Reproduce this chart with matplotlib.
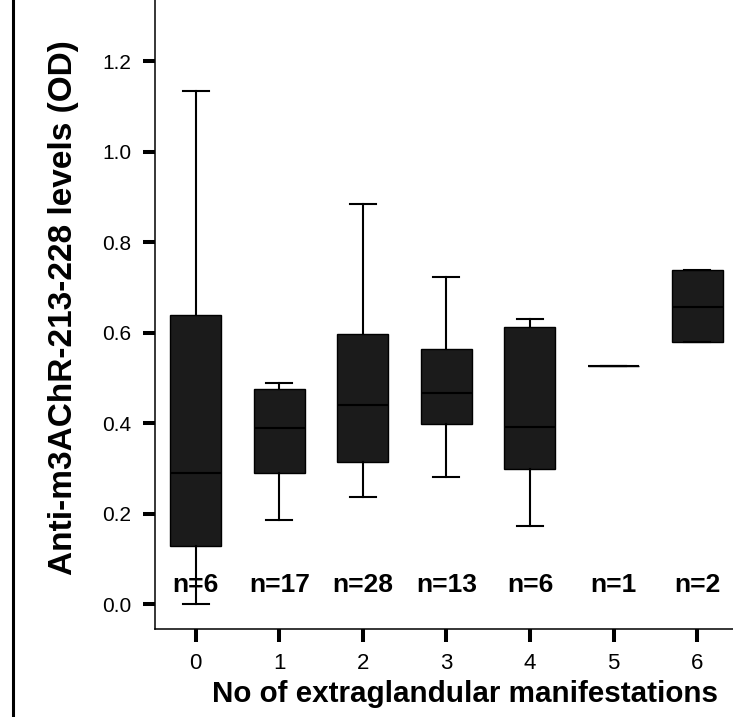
import matplotlib
matplotlib.use("Agg")
import matplotlib.pyplot as plt
from matplotlib.lines import Line2D

plt.rcParams['font.family'] = ['Liberation Sans', 'DejaVu Sans']

# --- datos ---
grupos = [0, 1, 2, 3, 4, 5, 6]
n_por_grupo = [6, 17, 28, 13, 6, 1, 2]
bigote_inf = [0.00, 0.186, 0.236, 0.281, 0.172, 0.526, 0.580]
q1 = [0.129, 0.290, 0.314, 0.398, 0.298, 0.526, 0.580]
mediana = [0.289, 0.389, 0.440, 0.467, 0.391, 0.526, 0.657]
q3 = [0.638, 0.476, 0.597, 0.564, 0.613, 0.526, 0.738]
bigote_sup = [1.133, 0.488, 0.884, 0.723, 0.630, 0.526, 0.738]

stats = []
for i in range(len(grupos)):
    stats.append({
        "whislo": bigote_inf[i], "q1": q1[i], "med": mediana[i],
        "q3": q3[i], "whishi": bigote_sup[i], "fliers": [],
    })

fig = plt.figure(figsize=(7.33, 7.17), dpi=100)
ax = fig.add_axes([155 / 733, 88 / 717, 578 / 733, 629 / 717])

ax.bxp(stats, positions=grupos, widths=0.61, capwidths=0.31,
       patch_artist=True, showfliers=False,
       boxprops=dict(facecolor="#1b1b1b", edgecolor="black", linewidth=1.0),
       medianprops=dict(color="black", linewidth=1.5),
       whiskerprops=dict(color="black", linewidth=1.5),
       capprops=dict(color="black", linewidth=1.5))

# --- etiquetas n=... ---
for i, n in zip(grupos, n_por_grupo):
    ax.text(i, 0.027, f"n={n}", ha="center", va="baseline",
            fontsize=19, fontweight="bold")

ax.set_xlim(-0.487, 6.43)
ax.set_ylim(-0.055, 1.335)
ax.set_xticks(grupos)
ax.set_xticklabels([str(g) for g in grupos])
ax.set_yticks([0.0, 0.2, 0.4, 0.6, 0.8, 1.0, 1.2])
ax.set_yticklabels(["0.0", "0.2", "0.4", "0.6", "0.8", "1.0", "1.2"])
ax.tick_params(axis="both", direction="out", length=9, width=2.9, pad=8)
ax.tick_params(axis="y", labelsize=15)
ax.tick_params(axis="x", labelsize=16)

for lado in ["top", "right"]:
    ax.spines[lado].set_visible(False)
for lado in ["left", "bottom"]:
    ax.spines[lado].set_linewidth(1.1)

fig.text(64 / 733, 409.5 / 717, "Anti-m3AChR-213-228 levels (OD)",
         rotation=90, ha="center", va="center", fontsize=24, fontweight="bold")
fig.text(464.5 / 733, 15 / 717, "No of extraglandular manifestations",
         ha="center", va="baseline", fontsize=21.3, fontweight="bold")

# linea del marco a la izquierda
fig.add_artist(Line2D([13.5 / 733, 13.5 / 733], [0, 1], color="black",
                      linewidth=2.2, transform=fig.transFigure))

fig.savefig("out.png", dpi=100)
